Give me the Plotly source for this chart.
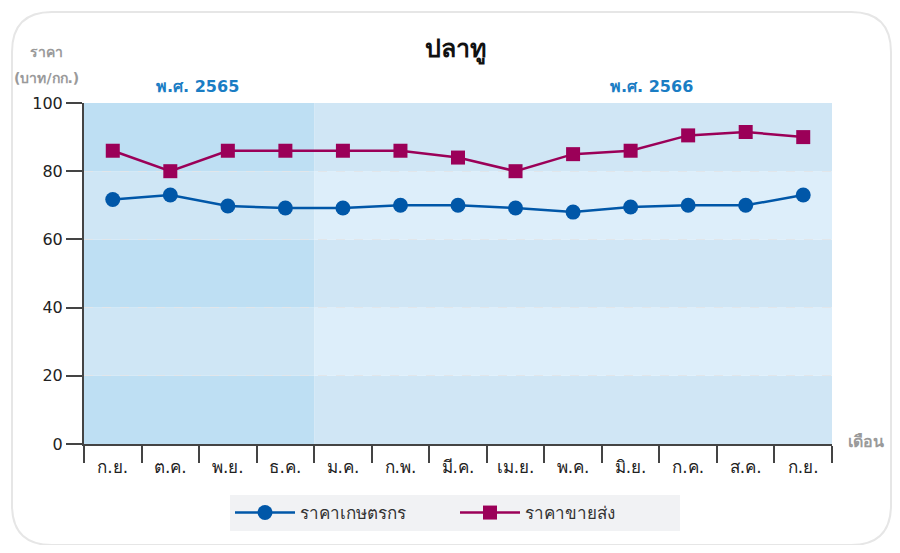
import plotly.graph_objects as go

months = ["ก.ย.", "ต.ค.", "พ.ย.", "ธ.ค.", "ม.ค.", "ก.พ.", "มี.ค.", "เม.ย.", "พ.ค.", "มิ.ย.", "ก.ค.", "ส.ค.", "ก.ย."]
farmer_price = [71.7, 73.0, 69.8, 69.2, 69.2, 70.0, 70.0, 69.2, 68.0, 69.5, 70.0, 70.0, 73.0]
wholesale_price = [86.0, 80.0, 86.0, 86.0, 86.0, 86.0, 84.0, 80.0, 85.0, 86.0, 90.5, 91.5, 90.0]
y_ticks = [0, 20, 40, 60, 80, 100]
year_labels = ["พ.ศ. 2565", "พ.ศ. 2566"]
series_names = ["ราคาเกษตรกร", "ราคาขายส่ง"]

FONT = "Tahoma, Verdana, DejaVu Sans, sans-serif"
xs = list(range(len(months)))

OFF = 8  # page body margin
W, H = 900 - 2 * OFF, 553 - 2 * OFF
# plot area in reference pixel coords: x 84..832, y 103..444
PL, PR, PT, PB = 84, 832, 103, 444
L = PL - OFF
T = PT - OFF
R = W - (PR - OFF)
B = H - (PB - OFF)
pw, ph = PR - PL, PB - PT

def px(x):
    return (x - PL) / pw

def py(y):
    return (PB - y) / ph

fig = go.Figure()
fig.add_trace(go.Scatter(
    x=xs, y=farmer_price, name=series_names[0], mode="lines+markers",
    line=dict(color="#0057A8", width=2.5),
    marker=dict(symbol="circle", size=15, color="#0057A8"),
))
fig.add_trace(go.Scatter(
    x=xs, y=wholesale_price, name=series_names[1], mode="lines+markers",
    line=dict(color="#9B0058", width=2.5),
    marker=dict(symbol="square", size=14, color="#9B0058"),
))

shapes = []
split = 3.5
for i in range(5):
    y0, y1 = i * 20, (i + 1) * 20
    dark = (i % 2 == 0)
    shapes.append(dict(type="rect", xref="x", yref="y", x0=-0.5, x1=split, y0=y0, y1=y1,
                       fillcolor="#BEDFF3" if dark else "#CFE6F5", line_width=0, layer="below"))
    shapes.append(dict(type="rect", xref="x", yref="y", x0=split, x1=12.5, y0=y0, y1=y1,
                       fillcolor="#D0E6F5" if dark else "#DDEEFA", line_width=0, layer="below"))
# card outline
x0, y0, x1, y1, r = 12, 12, 891, 545, 40
path = (f"M {px(x0 + r)} {py(y0)} L {px(x1 - r)} {py(y0)} Q {px(x1)} {py(y0)} {px(x1)} {py(y0 + r)} "
        f"L {px(x1)} {py(y1 - r)} Q {px(x1)} {py(y1)} {px(x1 - r)} {py(y1)} "
        f"L {px(x0 + r)} {py(y1)} Q {px(x0)} {py(y1)} {px(x0)} {py(y1 - r)} "
        f"L {px(x0)} {py(y0 + r)} Q {px(x0)} {py(y0)} {px(x0 + r)} {py(y0)} Z")
shapes.append(dict(type="path", xref="paper", yref="paper", path=path,
                   line=dict(color="#E6E6E6", width=2), fillcolor="rgba(0,0,0,0)", layer="below"))

def ann(text, x, y, size, color):
    return dict(text=text, x=px(x), y=py(y), xref="paper", yref="paper", showarrow=False,
                font=dict(size=size, color=color, family=FONT), xanchor="center", yanchor="middle")

annotations = [
    ann("<b>ปลาทู</b>", 455, 50, 25, "#111"),
    ann(f"<b>{year_labels[0]}</b>", 197, 86, 16, "#1A7DC4"),
    ann(f"<b>{year_labels[1]}</b>", 651, 86, 16, "#1A7DC4"),
    ann("<b>ราคา</b>", 46, 52, 14, "#9A9A9A"),
    ann("<b>(บาท/กก.)</b>", 46, 78, 14, "#9A9A9A"),
    ann("<b>เดือน</b>", 866, 441, 16, "#9A9A9A"),
]

fig.update_layout(
    width=W, height=H,
    margin=dict(l=L, r=R, t=T, b=B),
    paper_bgcolor="white", plot_bgcolor="rgba(0,0,0,0)",
    font=dict(family=FONT, size=16, color="#222"),
    shapes=shapes, annotations=annotations,
    showlegend=True,
    legend=dict(orientation="h", x=px(455), xanchor="center", y=py(495), yanchor="top",
                bgcolor="#F1F2F4", font=dict(size=17, color="#333", family=FONT),
                itemwidth=60, entrywidth=150, borderwidth=0),
    xaxis=dict(range=[-0.5, 12.5], tickmode="array", tickvals=xs, ticktext=months,
               ticks="outside", ticklen=0, tickcolor="rgba(0,0,0,0)", ticklabelstandoff=7,
               showgrid=False, zeroline=False, showline=True, linecolor="#444", linewidth=2,
               tickfont=dict(size=17, color="#222"),
               minor=dict(tickmode="array", tickvals=[i - 0.5 for i in range(len(months) + 1)],
                          ticks="outside", ticklen=17, tickcolor="#444", tickwidth=2, showgrid=False)),
    yaxis=dict(range=[0, 100], tickmode="array", tickvals=y_ticks,
               ticks="outside", ticklen=16, tickcolor="#444", tickwidth=2,
               showgrid=True, gridcolor="#E2E6EA", griddash="dash", gridwidth=1,
               zeroline=False, showline=True, linecolor="#444", linewidth=2,
               tickfont=dict(size=16, color="#222")),
)

fig.write_html("out.html")
